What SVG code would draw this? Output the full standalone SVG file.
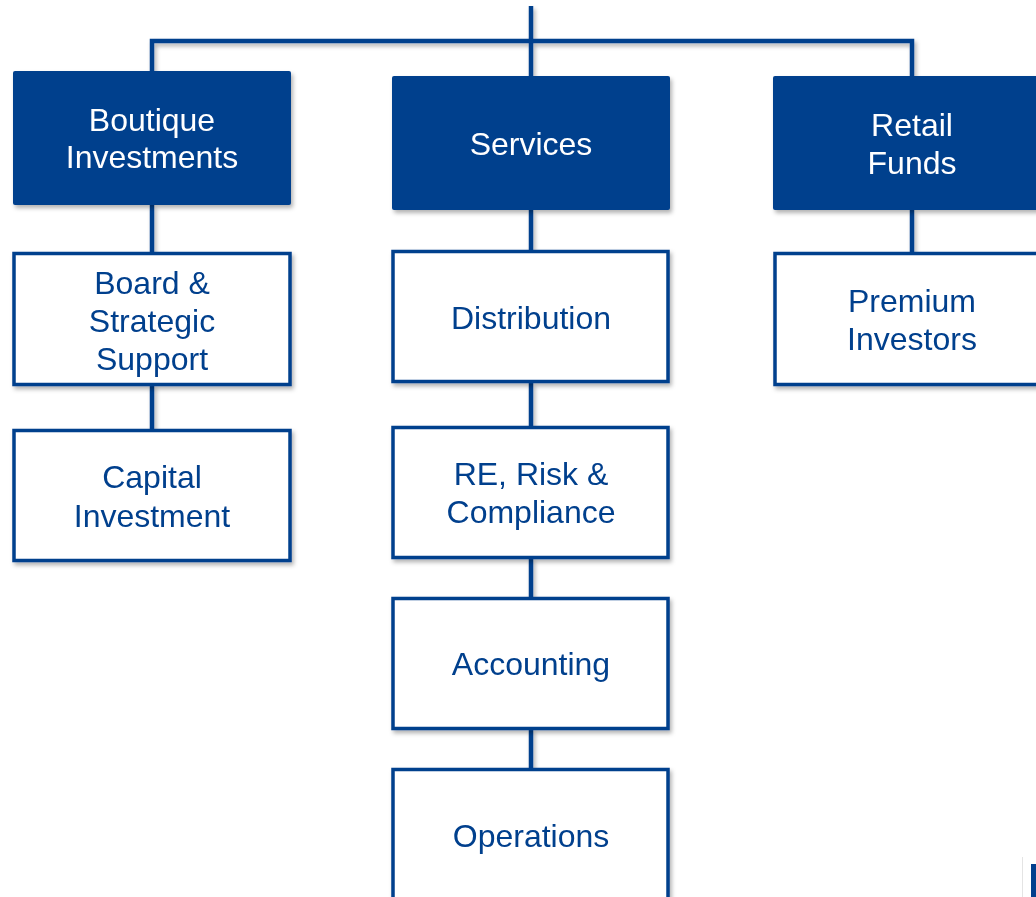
<svg xmlns="http://www.w3.org/2000/svg" width="1036" height="897" viewBox="0 0 1036 897">
<style>
.hd{fill:#023F8D;}
.bx{fill:#ffffff;stroke:#023F8D;stroke-width:3.5;}
.ln{stroke:#023F8D;stroke-width:4.5;fill:none;}
.tw{font-family:"Liberation Sans",Arial,sans-serif;font-size:32px;fill:#ffffff;text-anchor:middle;}
.tb{font-family:"Liberation Sans",Arial,sans-serif;font-size:32px;fill:#023F8D;text-anchor:middle;}
</style>
<defs>
<filter id="sh" x="-10%" y="-10%" width="125%" height="125%">
<feDropShadow dx="2" dy="3" stdDeviation="2" flood-color="#000" flood-opacity="0.3"/>
</filter>
</defs>
<rect width="1036" height="897" fill="#ffffff"/>
<g id="connectors" filter="url(#sh)">
<path class="ln" d="M531 6 V76"/>
<path class="ln" d="M152 73 V41 H912 V76"/>
<path class="ln" d="M152 205 V252"/>
<path class="ln" d="M152 385 V429"/>
<path class="ln" d="M531 210 V250"/>
<path class="ln" d="M531 383 V426"/>
<path class="ln" d="M531 558 V597"/>
<path class="ln" d="M531 729 V768"/>
<path class="ln" d="M912 210 V252"/>
</g>
<g id="boutique" filter="url(#sh)">
<rect class="hd" x="13" y="71" width="278" height="134" rx="2"/>
<text class="tw" x="152" y="131">Boutique</text>
<text class="tw" x="152" y="168">Investments</text>
</g>
<g id="services" filter="url(#sh)">
<rect class="hd" x="392" y="76" width="278" height="134" rx="2"/>
<text class="tw" x="531" y="155">Services</text>
</g>
<g id="retail" filter="url(#sh)">
<rect class="hd" x="773" y="76" width="278" height="134" rx="2"/>
<text class="tw" x="912" y="136">Retail</text>
<text class="tw" x="912" y="174">Funds</text>
</g>
<g id="board" filter="url(#sh)">
<rect class="bx" x="14" y="253.5" width="276" height="131"/>
<text class="tb" x="152" y="294">Board &amp;</text>
<text class="tb" x="152" y="332">Strategic</text>
<text class="tb" x="152" y="370">Support</text>
</g>
<g id="capital" filter="url(#sh)">
<rect class="bx" x="14" y="430.5" width="276" height="130"/>
<text class="tb" x="152" y="488">Capital</text>
<text class="tb" x="152" y="527">Investment</text>
</g>
<g id="distribution" filter="url(#sh)">
<rect class="bx" x="393" y="251.5" width="275" height="130"/>
<text class="tb" x="531" y="329">Distribution</text>
</g>
<g id="risk" filter="url(#sh)">
<rect class="bx" x="393" y="427.5" width="275" height="130"/>
<text class="tb" x="531" y="485">RE, Risk &amp;</text>
<text class="tb" x="531" y="523">Compliance</text>
</g>
<g id="accounting" filter="url(#sh)">
<rect class="bx" x="393" y="598.5" width="275" height="130"/>
<text class="tb" x="531" y="675">Accounting</text>
</g>
<g id="operations" filter="url(#sh)">
<rect class="bx" x="393" y="769.5" width="275" height="140"/>
<text class="tb" x="531" y="847">Operations</text>
</g>
<g id="premium" filter="url(#sh)">
<rect class="bx" x="775" y="253.5" width="276" height="131"/>
<text class="tb" x="912" y="312">Premium</text>
<text class="tb" x="912" y="350">Investors</text>
</g>
<line x1="1022.5" y1="857" x2="1022.5" y2="897" stroke="#e4e4e4" stroke-width="1"/>
<rect x="1031" y="864" width="6" height="34" fill="#023F8D"/>
</svg>
